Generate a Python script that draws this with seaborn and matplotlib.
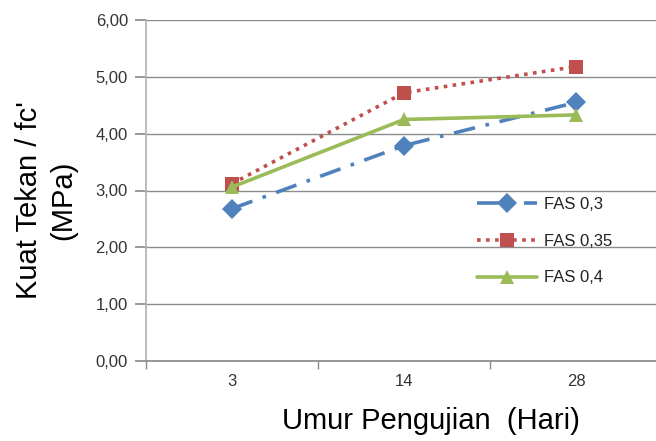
import matplotlib
matplotlib.use("Agg")
import matplotlib.pyplot as plt
import seaborn as sns
import pandas as pd
from matplotlib.ticker import FuncFormatter

days = ["3", "14", "28"]
series_names = ["FAS 0,3", "FAS 0,35", "FAS 0,4"]
fas_03 = [2.68, 3.79, 4.55]
fas_035 = [3.12, 4.72, 5.18]
fas_04 = [3.06, 4.25, 4.33]

rows = []
for name, vals in zip(series_names, [fas_03, fas_035, fas_04]):
    for i, v in enumerate(vals):
        rows.append({"pos": i, "day": days[i], "value": v, "series": name})
df = pd.DataFrame(rows)

sns.set_theme(style="white")
plt.rcParams['font.family'] = ['Liberation Sans', 'DejaVu Sans']

fig = plt.figure(figsize=(6.56, 4.41), dpi=100)
ax = fig.add_axes([146/656, 1-361/441, 1-146/656, (361-20)/441])

colors = {"FAS 0,3": "#4F81BD", "FAS 0,35": "#C0504D", "FAS 0,4": "#9BBB59"}
markers = {"FAS 0,3": "D", "FAS 0,35": "s", "FAS 0,4": "^"}
dashes = {"FAS 0,3": (6, 3, 1, 3), "FAS 0,35": (1, 1.5), "FAS 0,4": ""}

sns.lineplot(data=df, x="pos", y="value", hue="series", style="series",
             palette=colors, markers=markers, dashes=dashes, linewidth=2.6,
             markersize=10, markeredgewidth=0, ax=ax, legend=True)

ax.set_ylim(0, 6)
ax.set_xlim(-0.5, 2.5 - 6/172)
ax.set_yticks([0, 1, 2, 3, 4, 5, 6])
ax.yaxis.set_major_formatter(FuncFormatter(lambda v, p: f"{v:.2f}".replace(".", ",")))
ax.set_xticks([0, 1, 2])
ax.set_xticklabels(days)
ax.set_xticks([-0.5, 0.5, 1.5], minor=True)
ax.grid(axis="y", color="#8c8c8c", linewidth=1)
ax.set_axisbelow(True)
for s in ["top", "right"]:
    ax.spines[s].set_visible(False)
ax.spines["left"].set_color("#b0b0b0")
ax.spines["left"].set_linewidth(1.2)
ax.spines["bottom"].set_color("#8c8c8c")
ax.tick_params(axis="y", which="major", left=True, length=8, color="#8c8c8c",
               labelsize=12, labelcolor="#333333", pad=5)
ax.tick_params(axis="x", which="major", bottom=False, labelsize=12,
               labelcolor="#333333", pad=3)
ax.tick_params(axis="x", which="minor", bottom=True, length=6, color="#8c8c8c")

ax.set_xlabel("Umur Pengujian  (Hari)", fontsize=21, color="black")
ax.xaxis.set_label_coords((431-146)/510, -(429-361)/341)
ax.xaxis.label.set_va("baseline")
ax.set_ylabel("Kuat Tekan / fc'\n(MPa)", fontsize=21, color="black",
              linespacing=1.25)
ax.yaxis.set_label_coords((77-146)/510, (361-200)/341)

leg = ax.legend(loc="upper left", bbox_to_anchor=((462-146)/510, 1-(182-20)/341),
                frameon=False, fontsize=12, handlelength=3.6, labelspacing=1.3,
                handletextpad=0.4)
for t in leg.get_texts():
    t.set_color("#222222")

fig.savefig("out.png", dpi=100)
